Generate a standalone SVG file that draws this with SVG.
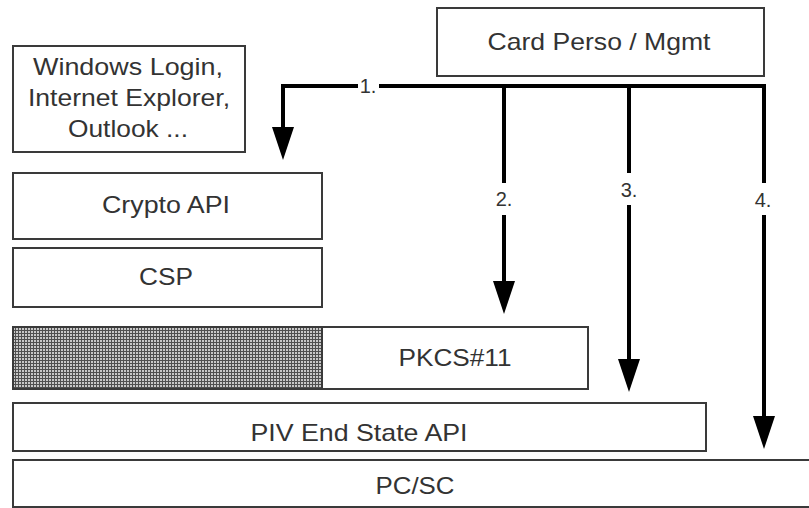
<svg xmlns="http://www.w3.org/2000/svg" width="809" height="508" viewBox="0 0 809 508">
  <style>
    .box { fill: #ffffff; stroke: #3a3a3a; stroke-width: 2; }
    .txt { font-family: "Liberation Sans", Arial, sans-serif; font-size: 24px; fill: #333333; text-anchor: middle; }
    .lbl { font-family: "Liberation Sans", Arial, sans-serif; font-size: 20px; fill: #333333; text-anchor: middle; }
    .conn { fill: none; stroke: #000000; stroke-width: 4; }
  </style>
  <defs>
    <pattern id="dots" width="3" height="3" patternUnits="userSpaceOnUse">
      <rect width="3" height="3" fill="#505050"/>
      <rect x="1" y="1" width="2" height="2" fill="#c8c8c8"/>
    </pattern>
    <marker id="ah" viewBox="0 0 33 22" markerWidth="33" markerHeight="22" refX="0" refY="11" markerUnits="userSpaceOnUse" orient="auto">
      <path d="M0,0 L33,11 L0,22 z" fill="#000000"/>
    </marker>
  </defs>
  <rect width="809" height="508" fill="#ffffff"/>

  <g id="windows-apps">
    <rect class="box" x="13" y="46" width="232" height="106"/>
    <text class="txt" x="128" y="75" textLength="190" lengthAdjust="spacingAndGlyphs">Windows Login,</text>
    <text class="txt" x="129" y="106" textLength="202" lengthAdjust="spacingAndGlyphs">Internet Explorer,</text>
    <text class="txt" x="128" y="137" textLength="120" lengthAdjust="spacingAndGlyphs">Outlook ...</text>
  </g>

  <g id="card-perso">
    <rect class="box" x="437" y="8" width="327" height="68"/>
    <text class="txt" x="599" y="50" textLength="223" lengthAdjust="spacingAndGlyphs">Card Perso / Mgmt</text>
  </g>

  <g id="crypto-api">
    <rect class="box" x="13" y="173" width="309" height="66"/>
    <text class="txt" x="166" y="213" textLength="128" lengthAdjust="spacingAndGlyphs">Crypto API</text>
  </g>

  <g id="csp">
    <rect class="box" x="13" y="248" width="309" height="59"/>
    <text class="txt" x="166" y="285" textLength="54" lengthAdjust="spacingAndGlyphs">CSP</text>
  </g>

  <g id="shaded">
    <rect x="13" y="327" width="309" height="62" fill="url(#dots)" stroke="#3a3a3a" stroke-width="2"/>
  </g>

  <g id="pkcs11">
    <rect class="box" x="322" y="327" width="266" height="62"/>
    <text class="txt" x="455" y="366" textLength="113" lengthAdjust="spacingAndGlyphs">PKCS#11</text>
  </g>

  <g id="piv-end-state-api">
    <rect class="box" x="13" y="403" width="693" height="48"/>
    <text class="txt" x="359" y="441" textLength="217" lengthAdjust="spacingAndGlyphs">PIV End State API</text>
  </g>

  <g id="pcsc">
    <rect class="box" x="13" y="460" width="810" height="47"/>
    <text class="txt" x="415" y="494" textLength="79" lengthAdjust="spacingAndGlyphs">PC/SC</text>
  </g>

  <g id="connectors">
    <path class="conn" d="M358 86 H283 V127" marker-end="url(#ah)"/>
    <path class="conn" d="M379 86 H764 V183"/>
    <path class="conn" d="M764 215 V416" marker-end="url(#ah)"/>
    <path class="conn" d="M504 86 V183"/>
    <path class="conn" d="M504 215 V281" marker-end="url(#ah)"/>
    <path class="conn" d="M629 86 V173"/>
    <path class="conn" d="M629 205 V359" marker-end="url(#ah)"/>
    <text class="lbl" x="368" y="93">1.</text>
    <text class="lbl" x="504" y="206">2.</text>
    <text class="lbl" x="629" y="197">3.</text>
    <text class="lbl" x="763" y="207">4.</text>
  </g>
</svg>
